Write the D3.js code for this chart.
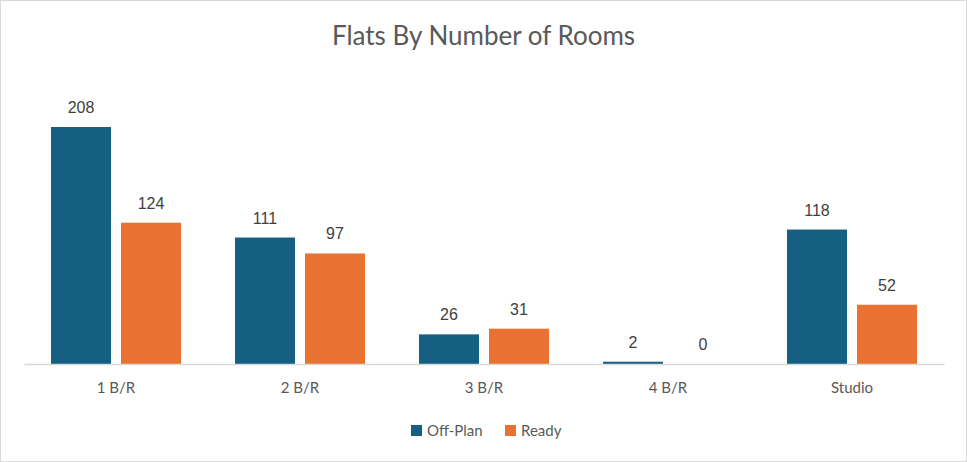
<!DOCTYPE html>
<html><head><meta charset="utf-8">
<script src="https://cdn.jsdelivr.net/npm/d3@7"></script>
<style>html,body{margin:0;padding:0;background:#fff;}svg{display:block;}</style>
</head><body>
<script>
const title = "Flats By Number of Rooms";
const categories = ["1 B/R", "2 B/R", "3 B/R", "4 B/R", "Studio"];
const seriesNames = ["Off-Plan", "Ready"];
const offPlan = [208, 111, 26, 2, 118];
const ready = [124, 97, 31, 0, 52];
const colors = ["#156082", "#E97132"];

const W = 967, H = 462;
const svg = d3.select("body").append("svg").attr("width", W).attr("height", H);
svg.append("rect").attr("x", 0.5).attr("y", 0.5).attr("width", W - 1).attr("height", H - 1)
  .attr("fill", "#fff").attr("stroke", "#d9d9d9");

const left = 24, right = 944, base = 364;
const x = d3.scaleBand().domain(categories).range([left, right]).paddingInner(54 / 184).paddingOuter(27 / 184);
const xs = d3.scaleBand().domain(seriesNames).range([0, x.bandwidth()]).paddingInner(10 / 70);
const y = d3.scaleLinear().domain([0, 208]).range([base, 127]);

svg.append("text").attr("x", W / 2).attr("y", 45).attr("text-anchor", "middle")
  .attr("font-family", "Lato, 'Open Sans', sans-serif").attr("font-size", 26).attr("fill", "#595959").text(title);

const data = categories.map((c, i) => ({c, vals: [offPlan[i], ready[i]]}));
const g = svg.append("g");
data.forEach(d => {
  d.vals.forEach((v, j) => {
    const bx = x(d.c) + xs(seriesNames[j]);
    g.append("rect").attr("x", bx).attr("y", y(v)).attr("width", xs.bandwidth())
      .attr("height", base - y(v)).attr("fill", colors[j]);
    g.append("text").attr("x", bx + xs.bandwidth() / 2).attr("y", y(v) - 14)
      .attr("text-anchor", "middle").attr("font-family", "'Liberation Sans', Arial, sans-serif")
      .attr("font-size", 16).attr("fill", "#404040").text(v);
  });
});

const axis = svg.append("g").attr("transform", `translate(0,${base})`)
  .call(d3.axisBottom(x).tickSize(0).tickPadding(18));
axis.select(".domain").attr("stroke", "#d9d9d9").attr("stroke-width", 1.5);
axis.selectAll("text").attr("font-family", "Lato, 'Open Sans', sans-serif").attr("font-size", 15).attr("fill", "#595959");

const legend = svg.append("g");
const lx = [411, 505];
seriesNames.forEach((s, j) => {
  legend.append("rect").attr("x", lx[j]).attr("y", 425).attr("width", 11).attr("height", 11).attr("fill", colors[j]);
  legend.append("text").attr("x", lx[j] + 16).attr("y", 436).attr("font-family", "Lato, 'Open Sans', sans-serif")
    .attr("font-size", 15).attr("fill", "#595959").text(s);
});
</script>
</body></html>
